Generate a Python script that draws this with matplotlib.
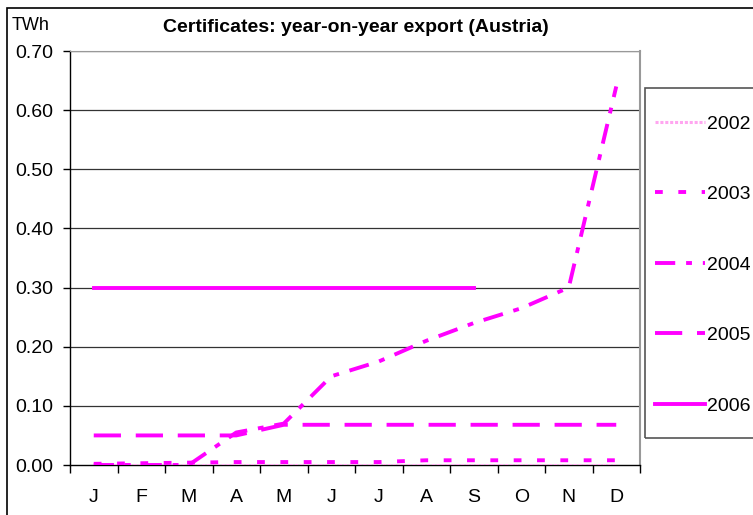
import matplotlib
matplotlib.use("Agg")
import matplotlib.pyplot as plt
from matplotlib.patches import Rectangle

plt.rcParams['font.family'] = ['Liberation Sans', 'DejaVu Sans']

months = ['J', 'F', 'M', 'A', 'M', 'J', 'J', 'A', 'S', 'O', 'N', 'D']
y2002 = [0.0, 0.0, 0.0, 0.0, 0.0, 0.0, 0.0, 0.0, 0.0, 0.0, 0.0, 0.0]
y2003 = [0.002, 0.003, 0.004, 0.005, 0.005, 0.005, 0.005, 0.008, 0.008, 0.008, 0.008, 0.008]
y2004 = [0.0, 0.0, 0.0, 0.055, 0.07, 0.15, 0.175, 0.21, 0.24, 0.265, 0.30, 0.64]
y2005 = [0.05, 0.05, 0.05, 0.05, 0.068, 0.068, 0.068, 0.068, 0.068, 0.068, 0.068, 0.068]
y2006 = [0.30, 0.30, 0.30, 0.30, 0.30, 0.30, 0.30, 0.30, 0.30]
yticks = [0.0, 0.1, 0.2, 0.3, 0.4, 0.5, 0.6, 0.7]

W, H = 753, 515
fig = plt.figure(figsize=(W / 100, H / 100), dpi=100)

# outer chart frame (top + left visible)
fig.add_artist(Rectangle((7 / W, -0.1), 1.2, (H - 8) / H + 0.1, transform=fig.transFigure,
                         fill=False, edgecolor='black', linewidth=1.2))

ax = fig.add_axes([70 / W, (H - 465) / H, 570 / W, 414 / H])
x = list(range(12))
mag = '#ff00ff'

ax.plot(x, y2002, color='#ffa6f0', lw=2.2, linestyle=(0, (1, 0.6)), label='2002', zorder=3)
ax.plot(x, y2003, color=mag, lw=2.8, linestyle=(0, (2.0, 4.0)), label='2003', zorder=4)
ax.plot(x, y2004, color=mag, lw=2.8, linestyle=(0, (5.2, 2.8, 1.5, 2.8)), label='2004', zorder=4)
ax.plot(x, y2005, color=mag, lw=2.8, linestyle=(0, (7.0, 3.8)), label='2005', zorder=4)
ax.plot(x[:len(y2006)], y2006, color=mag, lw=2.8, linestyle='-', label='2006', zorder=4)

ax.set_xlim(-0.5, 11.5)
ax.set_ylim(0, 0.7)
ax.set_yticks(yticks)
ax.set_yticklabels(['%.2f' % v for v in yticks], fontsize=14)
ax.set_xticks(x)
ax.set_xticklabels(months, fontsize=14)
ax.set_xticks([i + 0.5 for i in range(-1, 12)], minor=True)
ax.tick_params(axis='x', which='major', length=0, pad=17)
ax.tick_params(axis='x', which='minor', length=6, direction='out', width=1)
ax.tick_params(axis='y', length=5, direction='out', width=1, pad=7)

for v in yticks[1:]:
    ax.axhline(v, color='#333333', lw=0.9, zorder=1)

ax.spines['top'].set_color('#999999')
ax.spines['right'].set_color('#999999')
ax.spines['right'].set_linewidth(1.5)
ax.spines['left'].set_linewidth(1)
ax.spines['bottom'].set_linewidth(1)

fig.text(356 / W, 1 - 28 / H, 'Certificates: year-on-year export (Austria)',
         ha='center', va='center', fontsize=14, fontweight='bold')
fig.text(12 / W, 1 - 25 / H, 'TWh', ha='left', va='center', fontsize=13)

# legend frame drawn separately so the entries can sit close to its left edge
fig.add_artist(Rectangle((645 / W, (H - 438) / H), 0.2, 350 / H, transform=fig.transFigure,
                         fill=False, edgecolor='#555555', linewidth=1.2))
leg = fig.legend(loc='upper left', bbox_to_anchor=(655 / W, 1 - 115 / H),
                 fontsize=14, handlelength=2.55, handletextpad=0.15,
                 labelspacing=2.72, borderpad=0, borderaxespad=0,
                 frameon=False)

fig.savefig('out.png', dpi=100)
